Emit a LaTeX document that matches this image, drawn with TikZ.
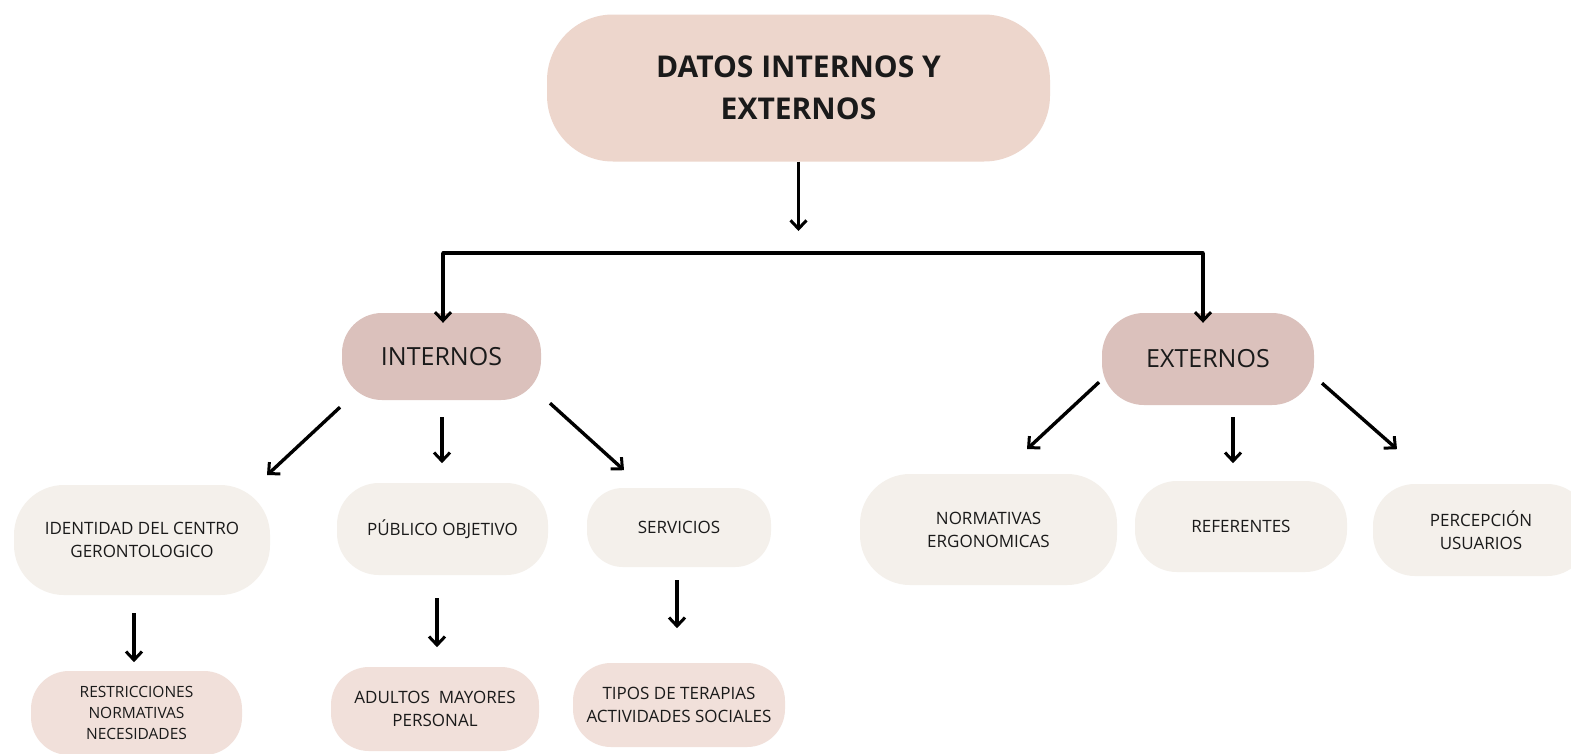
\documentclass[tikz,border=0pt]{standalone}
\usepackage{fontspec}
\setmainfont{Open Sans}
\usetikzlibrary{arrows.meta,calc}
\definecolor{topc}{HTML}{EDD6CC}
\definecolor{midc}{HTML}{DBC1BC}
\definecolor{lvltwo}{HTML}{F4F0EB}
\definecolor{lvlthree}{HTML}{F1E0DA}
\definecolor{ink}{HTML}{1A1A1A}
\tikzset{
  pill/.style={rectangle, inner sep=0pt, align=center, text=ink},
  txt/.style={font=\fontsize{17}{23}\selectfont},
  arr/.style={draw=black, line width=3.4pt, -{Straight Barb[length=8.5pt,width=16pt,line width=3pt]}},
  plain/.style={draw=black, line width=3.4pt}
}
\begin{document}
\begin{tikzpicture}[x=1pt,y=-1pt]
\useasboundingbox (0,0) rectangle (1571,753);
\clip (0,0) rectangle (1571,753);
\fill[white] (0,0) rectangle (1571,753);

% nodes
\node[pill, fill=topc, minimum width=503pt, minimum height=147pt, rounded corners=66pt,
      font=\bfseries\fontsize{30}{42}\selectfont] (top) at (798.5,88) {DATOS INTERNOS Y\\EXTERNOS};
\node[pill, fill=midc, minimum width=199pt, minimum height=87pt, rounded corners=40pt,
      font=\fontsize{25}{30}\selectfont] (int) at (441.5,356.5) {INTERNOS};
\node[pill, fill=midc, minimum width=212pt, minimum height=92pt, rounded corners=42pt,
      font=\fontsize{25}{30}\selectfont] (ext) at (1208,359) {EXTERNOS};

\node[pill, txt, fill=lvltwo, minimum width=256pt, minimum height=110pt, rounded corners=50pt] (iden) at (142,540) {IDENTIDAD DEL CENTRO\\GERONTOLOGICO};
\node[pill, txt, fill=lvltwo, minimum width=211pt, minimum height=92pt, rounded corners=42pt] (pub) at (442.5,529) {PÚBLICO OBJETIVO};
\node[pill, txt, fill=lvltwo, minimum width=184pt, minimum height=79pt, rounded corners=36pt] (serv) at (679,527.5) {SERVICIOS};

\node[pill, fill=lvlthree, minimum width=211pt, minimum height=84pt, rounded corners=38pt,
      font=\fontsize{15.5}{21}\selectfont] (restr) at (136.5,713) {RESTRICCIONES\\NORMATIVAS\\NECESIDADES};
\node[pill, txt, fill=lvlthree, minimum width=208pt, minimum height=84pt, rounded corners=38pt] (adul) at (435,709) {ADULTOS\ \ MAYORES\\PERSONAL};
\node[pill, txt, fill=lvlthree, minimum width=212pt, minimum height=84pt, rounded corners=38pt] (tipos) at (679,705) {TIPOS DE TERAPIAS\\ACTIVIDADES SOCIALES};

\node[pill, txt, fill=lvltwo, minimum width=257pt, minimum height=111pt, rounded corners=50pt] (norm) at (988.5,529.5) {NORMATIVAS\\ERGONOMICAS};
\node[pill, txt, fill=lvltwo, minimum width=212pt, minimum height=91pt, rounded corners=42pt] (ref) at (1241,526.5) {REFERENTES};
\node[pill, txt, fill=lvltwo, minimum width=216pt, minimum height=92pt, rounded corners=42pt] (perc) at (1481,530) {PERCEPCIÓN\\USUARIOS};

% connectors
\coordinate (hl) at (443,253);
\coordinate (hr) at (1203,253);
\draw[arr, shorten >=22pt] (top.south) -- (top.south |- hl);
\draw[plain, line cap=round] (hl) -- (hr);
\draw[arr, shorten >=-10pt] (hl) -- (hl |- int.north);
\draw[arr, shorten >=-10pt] (hr) -- (hr |- ext.north);

\draw[arr] (int.south) ++(-101.5,7) -- ++(-73,68);
\draw[arr] (int.south) ++(0.5,17) -- ++(0,46);
\draw[arr] (int.south) ++(108.5,3) -- ++(74,67);

\draw[arr] (ext.south) ++(-109,-23) -- ++(-72,67);
\draw[arr] (ext.south) ++(25,12) -- ++(0,46);
\draw[arr] (ext.south) ++(114,-22) -- ++(75,66);

\draw[arr] (iden.south) ++(-8,18) -- ++(0,49);
\draw[arr] (pub.south) ++(-5.5,23) -- ++(0,49);
\draw[arr] (serv.south) ++(-2,13) -- ++(0,48);
\end{tikzpicture}
\end{document}
